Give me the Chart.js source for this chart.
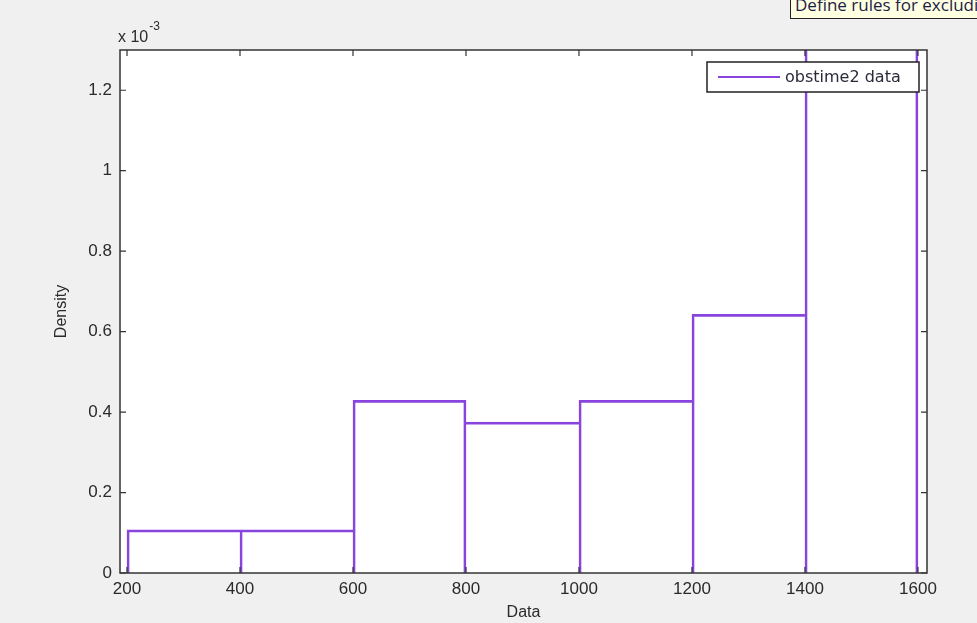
<!DOCTYPE html>
<html>
<head>
<meta charset="utf-8">
<script src="https://cdn.jsdelivr.net/npm/chart.js@4"></script>
<style>
  html, body { margin: 0; padding: 0; background: #f0f0f0; overflow: hidden; }
  #wrap { position: relative; width: 977px; height: 623px; }
  #tip {
    position: absolute; left: 790px; top: -7px; height: 26px;
    padding: 0 4px; box-sizing: border-box; white-space: nowrap;
    background: #ffffe1; border: 1px solid #222; border-top: none;
    font: 17px "Open Sans", sans-serif; color: #1c1c48; line-height: 24px;
  }
</style>
</head>
<body>
<div id="wrap">
  <canvas id="histChart" width="977" height="623"></canvas>
  <div id="tip">Define rules for excluding data</div>
</div>
<script>
// histogram bins (x) and density values (in units of 1e-3)
const binCenters = [300, 500, 700, 900, 1100, 1300, 1500];
const density = [0.107, 0.107, 0.429, 0.375, 0.429, 0.643, 1.6];
const xTicks = [200, 400, 600, 800, 1000, 1200, 1400, 1600];
const yTicks = [0, 0.2, 0.4, 0.6, 0.8, 1, 1.2];
const seriesName = "obstime2 data";
const purple = "rgb(136, 68, 221)";

const ctx = document.getElementById("histChart");

const matlabAxes = {
  id: "matlabAxes",
  beforeDraw(chart) {
    const c = chart.ctx;
    const a = chart.chartArea;
    c.save();
    c.fillStyle = "#ffffff";
    c.fillRect(a.left, a.top, a.right - a.left, a.bottom - a.top);
    c.restore();
  },
  afterDraw(chart) {
    const c = chart.ctx;
    const a = chart.chartArea;
    const xs = chart.scales.x;
    const ys = chart.scales.y;
    c.save();
    c.strokeStyle = "#333";
    c.lineWidth = 1.5;
    c.strokeRect(a.left, a.top, a.right - a.left, a.bottom - a.top);
    // inward ticks on all four sides
    c.lineWidth = 1.2;
    c.beginPath();
    xTicks.forEach(v => {
      const px = xs.getPixelForValue(v);
      c.moveTo(px, a.bottom); c.lineTo(px, a.bottom - 6);
      c.moveTo(px, a.top); c.lineTo(px, a.top + 6);
    });
    yTicks.forEach(v => {
      const py = ys.getPixelForValue(v);
      c.moveTo(a.left, py); c.lineTo(a.left + 6, py);
      c.moveTo(a.right, py); c.lineTo(a.right - 6, py);
    });
    c.stroke();

    // exponent label
    c.fillStyle = "#2a2a2a";
    c.textBaseline = "alphabetic";
    c.textAlign = "left";
    c.font = "16px 'Liberation Sans', Arial, sans-serif";
    c.fillText("x 10", a.left - 2, a.top - 8);
    const w = c.measureText("x 10").width;
    c.font = "12px 'Liberation Sans', Arial, sans-serif";
    c.fillText("-3", a.left - 1 + w, a.top - 20);

    // legend box
    const lx0 = a.right - 220, lx1 = a.right - 8, ly0 = a.top + 12, ly1 = a.top + 42;
    c.fillStyle = "#ffffff";
    c.fillRect(lx0, ly0, lx1 - lx0, ly1 - ly0);
    c.strokeStyle = "#222";
    c.lineWidth = 1.5;
    c.strokeRect(lx0, ly0, lx1 - lx0, ly1 - ly0);
    c.strokeStyle = purple;
    c.lineWidth = 2;
    c.beginPath();
    c.moveTo(lx0 + 11, (ly0 + ly1) / 2);
    c.lineTo(lx0 + 73, (ly0 + ly1) / 2);
    c.stroke();
    c.fillStyle = "#2a2a3a";
    c.font = "16px 'DejaVu Sans', sans-serif";
    c.textBaseline = "middle";
    c.fillText(seriesName, lx0 + 78, (ly0 + ly1) / 2 + 1);
    c.restore();
  }
};

const axisFont = { family: "'Liberation Sans', Arial, sans-serif", size: 17 };
// the taller of two neighbouring bins draws the shared edge
const hAt = (i) => (i >= 0 && i < density.length ? density[i] : 0);

new Chart(ctx, {
  type: "bar",
  data: {
    datasets: [
      {
        label: seriesName,
        data: binCenters.map((x, i) => ({ x: x, y: density[i] })),
        backgroundColor: "rgba(0,0,0,0)",
        borderColor: purple,
        borderWidth: (c) => ({
          top: 2,
          left: hAt(c.dataIndex) >= hAt(c.dataIndex - 1) ? 2 : 0,
          right: hAt(c.dataIndex) > hAt(c.dataIndex + 1) ? 2 : 0,
          bottom: 0,
        }),
        borderSkipped: false,
        barPercentage: 1,
        categoryPercentage: 1,
      },
    ],
  },
  options: {
    responsive: false,
    animation: false,
    events: [],
    layout: { padding: { top: 50, right: 50, left: 0, bottom: 0 } },
    plugins: {
      legend: { display: false },
      tooltip: { enabled: false },
    },
    scales: {
      x: {
        type: "linear",
        offset: false,
        min: 187.6,
        max: 1616,
        grid: { display: false, drawTicks: false, offset: false },
        border: { display: false },
        afterBuildTicks: (s) => { s.ticks = xTicks.map(v => ({ value: v })); },
        afterFit: (s) => { s.height = 50; },
        ticks: {
          padding: 6,
          color: "#2a2a2a",
          font: axisFont,
          maxRotation: 0,
          callback: (v) => String(v),
        },
        title: {
          display: true,
          text: "Data",
          color: "#2a2a2a",
          font: { family: "'Liberation Sans', Arial, sans-serif", size: 16 },
          padding: { top: 0, bottom: 1 },
        },
      },
      y: {
        min: 0,
        max: 1.3,
        grid: { display: false, drawTicks: false },
        border: { display: false },
        afterBuildTicks: (s) => { s.ticks = yTicks.map(v => ({ value: v })); },
        afterFit: (s) => { s.width = 120; },
        ticks: {
          padding: 8,
          color: "#2a2a2a",
          font: axisFont,
          callback: (v) => String(Math.round(v * 10) / 10),
        },
        title: {
          display: true,
          text: "Density",
          color: "#2a2a2a",
          font: { family: "'Liberation Sans', Arial, sans-serif", size: 16 },
          padding: { top: 52, bottom: 0 },
        },
      },
    },
  },
  plugins: [matlabAxes],
});
</script>
</body>
</html>
